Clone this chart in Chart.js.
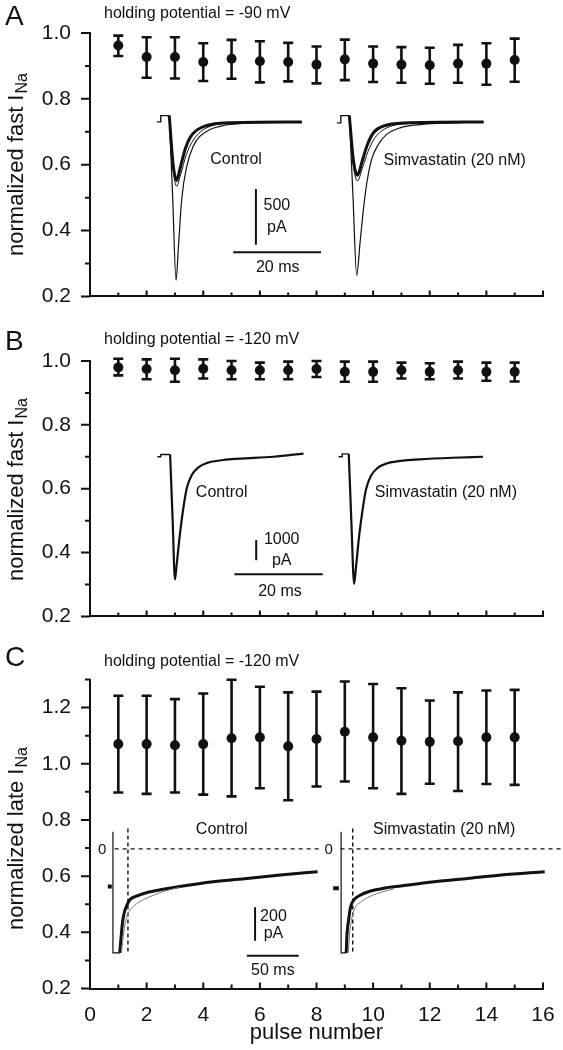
<!DOCTYPE html>
<html>
<head>
<meta charset="utf-8">
<script src="https://cdn.jsdelivr.net/npm/chart.js@4.4.1/dist/chart.umd.min.js"></script>
<style>
  body { margin: 0; background: #fff; }
  #wrap { position: relative; width: 563px; height: 1050px; }
  canvas { position: absolute; left: 0; }
</style>
</head>
<body>
<div id="wrap">
  <canvas id="chartA" width="563" height="320" style="top:0"></canvas>
  <canvas id="chartB" width="563" height="320" style="top:320px"></canvas>
  <canvas id="chartC" width="563" height="410" style="top:640px"></canvas>
</div>
<script>
// ---- data ----
const pulses = [1, 2, 3, 4, 5, 6, 7, 8, 9, 10, 11, 12, 13, 14, 15];

// A: fast INa, holding -90 mV
const aMean = [0.962, 0.927, 0.927, 0.912, 0.922, 0.914, 0.912, 0.904, 0.920, 0.907, 0.904, 0.902, 0.907, 0.907, 0.918];
const aHi   = [0.992, 0.987, 0.987, 0.969, 0.979, 0.975, 0.970, 0.959, 0.980, 0.959, 0.957, 0.955, 0.964, 0.969, 0.983];
const aLo   = [0.930, 0.864, 0.862, 0.854, 0.861, 0.850, 0.853, 0.847, 0.857, 0.851, 0.849, 0.846, 0.849, 0.843, 0.852];

// B: fast INa, holding -120 mV
const bMean = [0.980, 0.975, 0.971, 0.976, 0.971, 0.971, 0.971, 0.975, 0.966, 0.966, 0.971, 0.966, 0.971, 0.966, 0.966];
const bHi   = [1.007, 1.005, 1.007, 1.005, 1.000, 0.995, 0.998, 1.000, 0.998, 0.998, 0.995, 0.993, 0.998, 0.995, 0.995];
const bLo   = [0.955, 0.943, 0.935, 0.945, 0.943, 0.943, 0.943, 0.950, 0.935, 0.935, 0.945, 0.943, 0.945, 0.938, 0.936];

// C: late INa, holding -120 mV
const cMean = [1.070, 1.070, 1.066, 1.070, 1.091, 1.094, 1.062, 1.088, 1.114, 1.094, 1.082, 1.078, 1.080, 1.094, 1.094];
const cHi   = [1.242, 1.242, 1.230, 1.250, 1.299, 1.274, 1.254, 1.257, 1.293, 1.284, 1.269, 1.225, 1.254, 1.261, 1.263];
const cLo   = [0.898, 0.893, 0.898, 0.890, 0.884, 0.913, 0.870, 0.919, 0.937, 0.913, 0.893, 0.929, 0.903, 0.928, 0.925];

// tick labels
const xTicks = [0, 2, 4, 6, 8, 10, 12, 14, 16];
const xMinor = [1, 3, 5, 7, 9, 11, 13, 15];
const yTicksFast = [0.2, 0.4, 0.6, 0.8, 1.0];
const yMinorFast = [0.3, 0.5, 0.7, 0.9];
const yTicksLate = [0.2, 0.4, 0.6, 0.8, 1.0, 1.2];
const yMinorLate = [0.3, 0.5, 0.7, 0.9, 1.1, 1.3];

// inset current traces (in plot units)
const aCtlStep   = [[2.36, 0.730], [2.50, 0.730], [2.50, 0.749], [2.80, 0.749]];
const aCtlFirst  = [[2.80, 0.749], [2.92, 0.500], [3.04, 0.249], [3.12, 0.345], [3.24, 0.496], [3.42, 0.596], [3.65, 0.657], [3.89, 0.687], [4.24, 0.707], [4.71, 0.719], [5.30, 0.725], [6.48, 0.729], [7.48, 0.730]];
const aCtlSecond = [[2.80, 0.749], [2.93, 0.590], [3.06, 0.535], [3.20, 0.570], [3.40, 0.630], [3.60, 0.668], [3.90, 0.700], [4.30, 0.718], [5.00, 0.727], [7.48, 0.730]];
const aCtlRest   = [[2.80, 0.749], [2.93, 0.605], [3.06, 0.552], [3.18, 0.588], [3.36, 0.647], [3.53, 0.682], [3.77, 0.705], [4.12, 0.719], [4.71, 0.727], [7.48, 0.730]];
const aSimStep   = [[8.72, 0.727], [8.86, 0.727], [8.86, 0.749], [9.16, 0.749]];
const aSimFirst  = [[9.16, 0.749], [9.29, 0.500], [9.42, 0.264], [9.54, 0.365], [9.66, 0.466], [9.78, 0.546], [9.95, 0.617], [10.19, 0.662], [10.48, 0.692], [10.95, 0.712], [11.66, 0.722], [12.84, 0.727], [13.90, 0.730]];
const aSimSecond = [[9.16, 0.749], [9.30, 0.600], [9.45, 0.551], [9.62, 0.590], [9.82, 0.640], [10.05, 0.680], [10.40, 0.708], [11.10, 0.724], [13.90, 0.730]];
const aSimRest   = [[9.16, 0.749], [9.30, 0.615], [9.45, 0.568], [9.60, 0.607], [9.78, 0.657], [10.01, 0.697], [10.36, 0.717], [11.07, 0.727], [13.90, 0.730]];
const aScaleV = [[5.86, 0.357], [5.86, 0.526]];
const aScaleH = [[5.06, 0.334], [8.16, 0.334]];

const bCtlStep  = [[2.38, 0.700], [2.50, 0.700], [2.50, 0.707], [2.83, 0.707]];
const bCtlTrace = [[2.83, 0.707], [2.92, 0.500], [3.00, 0.316], [3.06, 0.361], [3.18, 0.461], [3.30, 0.541], [3.42, 0.602], [3.59, 0.642], [3.83, 0.667], [4.12, 0.680], [4.71, 0.690], [5.30, 0.694], [6.48, 0.700], [7.54, 0.710]];
const bSimStep  = [[8.78, 0.700], [8.91, 0.700], [8.91, 0.709], [9.14, 0.709]];
const bSimTrace = [[9.14, 0.709], [9.23, 0.500], [9.33, 0.302], [9.39, 0.350], [9.51, 0.455], [9.63, 0.535], [9.75, 0.598], [9.92, 0.640], [10.16, 0.665], [10.45, 0.678], [11.04, 0.688], [11.63, 0.692], [12.81, 0.697], [13.88, 0.700]];
const bScaleV = [[5.87, 0.376], [5.87, 0.439]];
const bScaleH = [[5.10, 0.332], [8.22, 0.332]];

const cCtlStub  = [[0.63, 0.563], [0.77, 0.563]];
const cCtlEdge  = [[0.81, 0.758], [0.81, 0.327], [1.05, 0.327]];
const cCtlTrace = [[1.05, 0.327], [1.11, 0.397], [1.16, 0.444], [1.22, 0.474], [1.28, 0.491], [1.40, 0.515], [1.64, 0.529], [1.99, 0.541], [2.58, 0.553], [3.17, 0.563], [4.35, 0.580], [5.54, 0.592], [6.72, 0.604], [8.04, 0.616]];
const cCtlGray  = [[1.11, 0.327], [1.19, 0.397], [1.28, 0.450], [1.40, 0.477], [1.64, 0.501], [1.99, 0.521], [2.58, 0.545], [3.17, 0.560]];
const cCtlZero  = [[0.87, 0.697], [8.10, 0.697]];
const cCtlMark  = [[1.34, 0.770], [1.34, 0.325]];
const cSimStub  = [[8.59, 0.557], [8.79, 0.557]];
const cSimEdge  = [[8.87, 0.758], [8.87, 0.327], [9.05, 0.327]];
const cSimTrace = [[9.05, 0.327], [9.08, 0.397], [9.12, 0.433], [9.20, 0.489], [9.32, 0.515], [9.56, 0.533], [9.91, 0.547], [10.38, 0.557], [10.98, 0.565], [12.16, 0.580], [13.34, 0.592], [14.52, 0.604], [16.06, 0.616]];
const cSimGray  = [[9.12, 0.327], [9.18, 0.405], [9.32, 0.477], [9.56, 0.507], [10.03, 0.534], [10.74, 0.555]];
const cSimZero  = [[8.85, 0.697], [16.65, 0.697]];
const cSimMark  = [[9.28, 0.770], [9.28, 0.325]];
const cScaleV = [[5.83, 0.370], [5.83, 0.489]];
const cScaleH = [[5.54, 0.317], [7.37, 0.317]];

// ---- drawing ----
const FAMILY = '"Liberation Sans", Arial, Helvetica, sans-serif';
const INK = '#111';

function pts(pairs) {
  return pairs.map(([x, y]) => ({x, y}));
}

// smooth recorded trace
function trace(pairs, width, extra) {
  return Object.assign({
    data: pts(pairs),
    showLine: true,
    pointRadius: 0,
    borderColor: INK,
    borderWidth: width,
    cubicInterpolationMode: 'monotone',
    clip: false
  }, extra || {});
}

// straight segments (steps, scale bars, markers)
function segs(pairs, width, extra) {
  return trace(pairs, width, Object.assign({cubicInterpolationMode: 'default', tension: 0}, extra || {}));
}

function means(values) {
  return {
    data: pulses.map((x, i) => ({x, y: values[i]})),
    showLine: false,
    pointRadius: 5,
    pointBackgroundColor: INK,
    pointBorderWidth: 0,
    clip: false
  };
}

function decor(p) {
  return {
    id: 'decor',
    beforeDatasetsDraw(chart) {
      const {ctx, scales: {x, y}} = chart;
      ctx.save();
      ctx.strokeStyle = INK;
      ctx.lineWidth = 2.6;
      pulses.forEach((v, i) => {
        const px = x.getPixelForValue(v);
        const top = y.getPixelForValue(p.hi[i]);
        const bot = y.getPixelForValue(p.lo[i]);
        ctx.beginPath();
        ctx.moveTo(px, top); ctx.lineTo(px, bot);
        ctx.moveTo(px - 5, top); ctx.lineTo(px + 5, top);
        ctx.moveTo(px - 5, bot); ctx.lineTo(px + 5, bot);
        ctx.stroke();
      });
      ctx.restore();
    },
    afterDraw(chart) {
      const {ctx, chartArea: a, scales: {x, y}} = chart;
      ctx.save();
      // tick marks: y outward, x inward
      ctx.strokeStyle = INK;
      ctx.lineWidth = 2;
      ctx.beginPath();
      p.yTicks.forEach(v => {
        const py = y.getPixelForValue(v);
        ctx.moveTo(a.left - 9, py); ctx.lineTo(a.left, py);
      });
      p.yMinor.forEach(v => {
        const py = y.getPixelForValue(v);
        ctx.moveTo(a.left - 5, py); ctx.lineTo(a.left, py);
      });
      xTicks.forEach(v => {
        if (v === 0) return;
        const px = x.getPixelForValue(v);
        ctx.moveTo(px, a.bottom); ctx.lineTo(px, a.bottom - 6);
      });
      xMinor.forEach(v => {
        const px = x.getPixelForValue(v);
        ctx.moveTo(px, a.bottom); ctx.lineTo(px, a.bottom - 4);
      });
      ctx.stroke();

      ctx.fillStyle = INK;
      ctx.textBaseline = 'middle';
      ctx.textAlign = 'left';
      ctx.font = `28px ${FAMILY}`;
      ctx.fillText(p.letter, 5, p.letterY);
      ctx.font = `16px ${FAMILY}`;
      ctx.fillText(p.holding, 104, p.holdingY);

      // rotated y title with subscript
      ctx.save();
      ctx.translate(17, p.titleY);
      ctx.rotate(-Math.PI / 2);
      ctx.font = `22px ${FAMILY}`;
      const w1 = ctx.measureText(p.yTitle).width;
      ctx.font = `16px ${FAMILY}`;
      const w2 = ctx.measureText('Na').width;
      const start = -(w1 + w2) / 2;
      ctx.font = `22px ${FAMILY}`;
      ctx.fillText(p.yTitle, start, 0);
      ctx.font = `16px ${FAMILY}`;
      ctx.fillText('Na', start + w1 + 1, 6);
      ctx.restore();

      // inset labels
      ctx.textAlign = 'center';
      p.labels.forEach(([text, lx, ly, size]) => {
        ctx.font = `${size}px ${FAMILY}`;
        ctx.fillText(text, x.getPixelForValue(lx), y.getPixelForValue(ly));
      });

      if (p.xTitle) {
        ctx.font = `22px ${FAMILY}`;
        ctx.fillText(p.xTitle, (a.left + a.right) / 2, p.xTitleY);
      }
      ctx.restore();
    }
  };
}

function panel(id, p) {
  new Chart(document.getElementById(id), {
    type: 'scatter',
    data: {datasets: p.datasets},
    options: {
      responsive: false,
      animation: false,
      events: [],
      layout: {padding: {top: p.padTop, right: 20, left: 0, bottom: 0}},
      plugins: {legend: {display: false}, tooltip: {enabled: false}},
      scales: {
        x: {
          type: 'linear', min: 0, max: 16,
          grid: {display: false},
          border: {display: true, color: INK, width: 2},
          ticks: {display: p.xLabels, color: INK, padding: 6, maxRotation: 0,
                  font: {family: FAMILY, size: 21}},
          afterBuildTicks: s => { s.ticks = xTicks.map(v => ({value: v})); },
          afterFit: s => { s.height = p.xHeight; }
        },
        y: {
          type: 'linear', min: p.yMin, max: p.yMax,
          grid: {display: false},
          border: {display: true, color: INK, width: 2},
          ticks: {color: INK, padding: 11, font: {family: FAMILY, size: 21},
                  callback: v => v.toFixed(1)},
          afterBuildTicks: s => { s.ticks = p.yTicks.map(v => ({value: v})); },
          afterFit: s => { s.width = 90; }
        }
      }
    },
    plugins: [decor(p)]
  });
}

panel('chartA', {
  padTop: 33, xHeight: 22, xLabels: false, yMin: 0.2, yMax: 1.0,
  yTicks: yTicksFast, yMinor: yMinorFast, hi: aHi, lo: aLo,
  letter: 'A', letterY: 17, holding: 'holding potential = -90 mV', holdingY: 14,
  yTitle: 'normalized fast I', titleY: 165,
  labels: [['Control', 5.16, 0.615, 16], ['Simvastatin (20 nM)', 12.88, 0.611, 16],
           ['500', 6.60, 0.476, 16], ['pA', 6.60, 0.410, 16], ['20 ms', 6.63, 0.287, 16]],
  datasets: [
    means(aMean),
    segs(aCtlStep, 1.4), trace(aCtlFirst, 1.2), trace(aCtlSecond, 1), trace(aCtlRest, 3),
    segs(aSimStep, 1.4), trace(aSimFirst, 1.2), trace(aSimSecond, 1), trace(aSimRest, 3),
    segs(aScaleV, 2), segs(aScaleH, 2)
  ]
});

panel('chartB', {
  padTop: 41, xHeight: 13.5, xLabels: false, yMin: 0.2, yMax: 1.0,
  yTicks: yTicksFast, yMinor: yMinorFast, hi: bHi, lo: bLo,
  letter: 'B', letterY: 22, holding: 'holding potential = -120 mV', holdingY: 20,
  yTitle: 'normalized fast I', titleY: 170,
  labels: [['Control', 4.65, 0.587, 16], ['Simvastatin (20 nM)', 12.57, 0.588, 16],
           ['1000', 6.77, 0.441, 16], ['pA', 6.77, 0.376, 16], ['20 ms', 6.71, 0.277, 16]],
  datasets: [
    means(bMean),
    segs(bCtlStep, 1.4), trace(bCtlTrace, 2.2),
    segs(bSimStep, 1.4), trace(bSimTrace, 2.2),
    segs(bScaleV, 2), segs(bScaleH, 2)
  ]
});

panel('chartC', {
  padTop: 39.5, xHeight: 61.5, xLabels: true, yMin: 0.2, yMax: 1.3,
  yTicks: yTicksLate, yMinor: yMinorLate, hi: cHi, lo: cLo,
  letter: 'C', letterY: 18, holding: 'holding potential = -120 mV', holdingY: 21.5,
  yTitle: 'normalized late I', titleY: 199,
  xTitle: 'pulse number', xTitleY: 393,
  labels: [['Control', 4.65, 0.767, 16], ['Simvastatin (20 nM)', 12.51, 0.767, 16],
           ['0', 0.43, 0.693, 15], ['0', 8.43, 0.693, 15],
           ['200', 6.48, 0.456, 16], ['pA', 6.48, 0.397, 16], ['50 ms', 6.46, 0.263, 16]],
  datasets: [
    means(cMean),
    segs(cCtlStub, 4), segs(cCtlEdge, 1.2),
    trace(cCtlGray, 1, {borderColor: '#777'}), trace(cCtlTrace, 3),
    segs(cCtlZero, 1.2, {borderDash: [4, 4]}), segs(cCtlMark, 1.4, {borderDash: [4, 3]}),
    segs(cSimStub, 4), segs(cSimEdge, 1.2),
    trace(cSimGray, 1, {borderColor: '#777'}), trace(cSimTrace, 3),
    segs(cSimZero, 1.2, {borderDash: [4, 4]}), segs(cSimMark, 1.4, {borderDash: [4, 3]}),
    segs(cScaleV, 2), segs(cScaleH, 2)
  ]
});
</script>
</body>
</html>
